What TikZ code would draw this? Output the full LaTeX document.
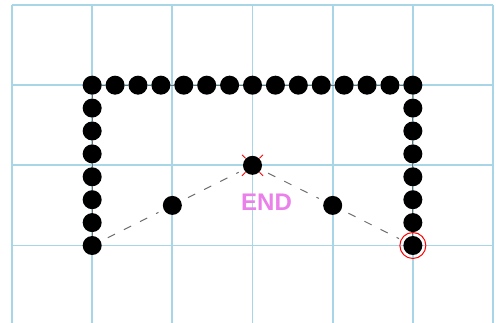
\documentclass[tikz,border=0pt]{standalone}
\usepackage{fontspec}
\setmainfont{Liberation Sans}
\usetikzlibrary{calc}
\definecolor{gridblue}{RGB}{168,214,230}
\definecolor{endpink}{RGB}{234,128,234}
\definecolor{pathgray}{RGB}{110,110,110}
\begin{document}
\begin{tikzpicture}[x=1pt,y=-1pt,
  gridline/.style={draw=gridblue, line width=1.8pt},
  dot/.style={circle, fill=black, minimum size=19pt, inner sep=0pt, outer sep=0pt},
  pathline/.style={draw=pathgray, line width=0.9pt},
  dashline/.style={draw=pathgray, line width=1pt, dash pattern=on 8pt off 10pt, shorten <=8pt, shorten >=6pt},
  ring/.style={circle, draw=red, line width=1pt, minimum size=26pt, inner sep=0pt},
  tick/.style={draw=red, line width=0.9pt},
  label/.style={text=endpink, font=\bfseries\fontsize{24}{24}\selectfont, inner sep=0pt}]
\useasboundingbox (0,0) rectangle (497,323);
\fill[white] (0,0) rectangle (497,323);
% grid
\foreach \i in {0,...,6} \draw[gridline] (12+80.167*\i,5) -- (12+80.167*\i,323);
\foreach \j in {0,...,3} \draw[gridline] (12,5+80.167*\j) -- (493,5+80.167*\j);
% dots
\foreach \i in {0,...,14} \node[dot] (t\i) at (92.17+22.906*\i,85.17) {};
\foreach \j in {1,...,7} {
  \node[dot] (l\j) at (92.17,85.17+22.906*\j) {};
  \node[dot] (r\j) at (412.85,85.17+22.906*\j) {};
}
\node[dot] (c) at (252.5,165.33) {};
\node[dot] (m1) at (172.33,205.4) {};
\node[dot] (m2) at (332.7,205.4) {};
% path connectors
\foreach \a/\b in {7/6,6/5,5/4,4/3,3/2,2/1} \draw[pathline] (l\a) -- (l\b);
\draw[pathline] (l1) -- (t0);
\foreach \a [evaluate=\a as \b using int(\a+1)] in {0,...,13} \draw[pathline] (t\a) -- (t\b);
\draw[pathline] (t14) -- (r1);
\foreach \a/\b in {1/2,2/3,3/4,4/5,5/6,6/7} \draw[pathline] (r\a) -- (r\b);
% dashed connectors
\draw[dashline] (l7) -- (m1);
\draw[dashline] (m1) -- (c);
\draw[dashline] (c) -- (m2);
\draw[dashline] (m2) -- (r7);
% markers
\node[ring] (start) at (r7.center) {};
\foreach \dx/\dy in {1/1,1/-1,-1/1,-1/-1}
  \draw[tick] ($(c.center)+(7*\dx,7*\dy)$) -- ($(c.center)+(10.5*\dx,10.5*\dy)$);
\node[label] (endlabel) at (266.5,202.5) {END};
\end{tikzpicture}
\end{document}
